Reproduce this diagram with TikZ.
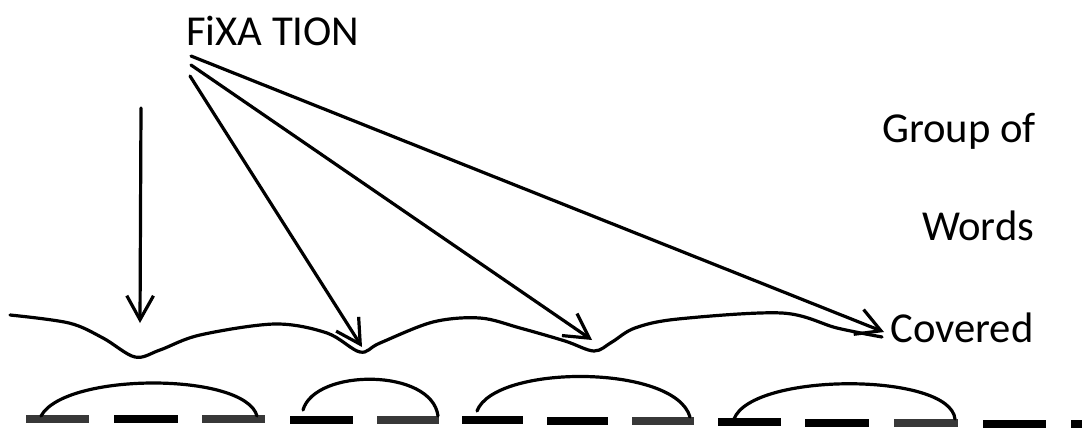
\documentclass[tikz,border=0pt]{standalone}
\usepackage{fontspec}
\setmainfont{Carlito}
\usetikzlibrary{arrows.meta}
\begin{document}
\begin{tikzpicture}[x=0.75pt,y=-0.75pt,
  ink/.style={line width=2.4pt, line cap=round, line join=round},
  arr/.style={ink, -{Straight Barb[length=18pt,width=20pt,line width=2.4pt]}},
  lbl/.style={inner sep=0pt, anchor=base west, font=\fontsize{32}{38}\selectfont},
  greydash/.style={fill=black!78},
  blackdash/.style={fill=black},
]
\useasboundingbox (0,0) rectangle (1082,429);

% labels
\node[lbl] (fix) at (186,45) {FiXA TION};
\node[lbl] (grp) at (882,142) {Group of};
\node[lbl] (words) at (922,240) {Words};
\node[lbl] (cov) at (890,342) {Covered};

% arrow start and end points
\coordinate (s1) at (191,56);
\coordinate (s2) at (191,65);
\coordinate (s3) at (190,76);
\coordinate (v0) at (141,108);
\coordinate (t0) at (140,323);
\coordinate (t1) at (362,347);
\coordinate (t2) at (592,340);
\coordinate (t3) at (884,332);

% wavy line
\draw[ink] plot[smooth, tension=0.55] coordinates {
  (10,315) (69,323) (103,338) (135,357) (160,350) (200,335) (275,324)
  (327,333) (360,352) (380,343) (433,322) (480,318) (520,328) (565,341)
  (594,351) (612,342) (635,328) (678,319) (782,313) (837,328) (882,337)};

% arrows
\draw[arr] (v0) -- (t0);
\draw[arr] (s3) -- (t1);
\draw[arr] (s2) -- (t2);
\draw[arr] (s1) -- (t3);

% dashes
\foreach \a/\b/\c/\s in {26/89/419/greydash, 114/178/419/blackdash, 202/265/419/greydash,
  290/353/419.5/blackdash, 377/439/420/greydash, 462/523/420/blackdash,
  547/608/421/blackdash, 632/694/421/greydash, 718/781/422/blackdash,
  805/869/423/blackdash, 894/958/423/greydash, 983/1046/424/blackdash,
  1071/1095/424/blackdash}{
  \path[\s] (\a,\c-4) rectangle (\b,\c+4);
}

% arcs
\draw[ink] (41,416) .. controls (65,372) and (245,372) .. (257,416);
\draw[ink] (303,410) .. controls (315,368) and (432,368) .. (438,416);
\draw[ink] (477,411) .. controls (495,364) and (675,364) .. (690,417);
\draw[ink] (734,419) .. controls (752,372) and (950,372) .. (955,419);
\end{tikzpicture}
\end{document}
